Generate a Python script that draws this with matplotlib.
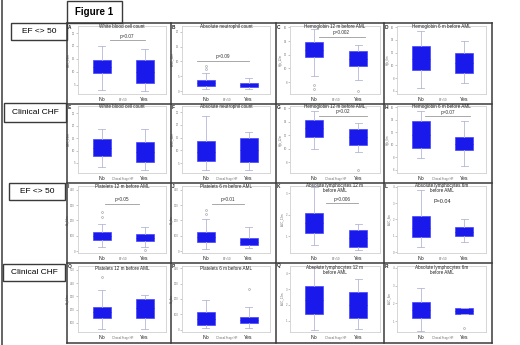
import matplotlib
matplotlib.use("Agg")
import matplotlib.pyplot as plt
from matplotlib.patches import Rectangle

plt.rcParams['font.family'] = ['Liberation Sans', 'DejaVu Sans']

W, H = 520, 345

# ---- data ----
letters = ['A', 'B', 'C', 'D', 'E', 'F', 'G', 'H', 'I', 'J', 'K', 'L', 'O', 'P', 'Q', 'R']
titles = ['White blood cell count', 'Absolute neutrophil count',
          'Hemoglobin 12 m before AML', 'Hemoglobin 6 m before AML',
          'White blood cell count', 'Absolute neutrophil count',
          'Hemoglobin 12 m before AML,', 'Hemoglobin 6 m before AML',
          'Platelets 12 m before AML', 'Platelets 6 m before AML',
          'Absolute lymphocytes 12 m\nbefore AML', 'Absolute lymphocytes 6m\nbefore AML',
          'Platelets 12 m before AML', 'Platelets 6 m before AML',
          'Absolute lymphocytes 12 m\nbefore AML', 'Absolute lymphocytes 6m\nbefore AML']
ylabels = ['WBC_12m', 'ANC_12m', 'Hgb_12m', 'Hgb_6m',
           'WBC_12m', 'ANC_12m', 'Hgb_12m', 'Hgb_6m',
           'Plt_12m', 'Plt_6m', 'ALC_12m', 'ALC_6m',
           'Plt_12m', 'Plt_6m', 'ALC_12m', 'ALC_6m']
yticks = [[5, 10, 15, 20, 25], [0, 5, 10, 15, 20], [8, 10, 12, 14, 16], [6, 8, 10, 12, 14, 16],
          [5, 10, 15, 20, 25], [5, 10, 15, 20, 25], [8, 10, 12, 14, 16], [6, 8, 10, 12, 14, 16],
          [0, 100, 200, 300, 400], [0, 100, 200, 300, 400], [1, 2, 3], [0, 1, 2, 3, 4],
          [100, 200, 300, 400, 500], [0, 100, 200, 300, 400], [1, 2, 3, 4], [1, 2, 3, 4]]
ylims = [(1.5, 27.7), (-1.0, 22.0), (6.25, 16.2), (5.5, 16.2),
         (1.0, 27.8), (1.1, 27.4), (6.4, 16.3), (5.5, 16.2),
         (-13, 426), (-13, 426), (0.21, 3.33), (-0.06, 4.06),
         (32, 530), (-13, 413), (0.31, 4.44), (0.38, 4.11)]

# (whisker low, q1, median, q3, whisker high)
no_stats = [(3.0, 9.7, 12.0, 14.7, 20.0), (0.7, 1.7, 2.6, 3.7, 6.1),
            (8.9, 11.6, 12.7, 13.8, 15.7), (6.5, 9.3, 11.0, 13.0, 15.4),
            (3.4, 7.8, 11.0, 14.6, 18.6), (2.3, 5.8, 9.5, 13.6, 23.4),
            (9.9, 11.7, 13.0, 14.2, 15.6), (7.9, 9.5, 11.5, 13.8, 15.4),
            (26, 72, 98, 125, 177), (13, 59, 90, 125, 208),
            (0.58, 1.14, 1.6, 2.07, 3.28), (0.3, 0.92, 1.5, 2.2, 3.8),
            (55, 138, 180, 221, 349), (13, 32, 70, 116, 194),
            (0.44, 1.44, 2.3, 3.19, 4.38), (0.44, 1.17, 1.6, 2.07, 2.86)]
no_fliers = [[], [7.5, 8.5], [7.0, 7.6], [], [], [], [], [],
             [223, 256], [243, 269], [], [], [447], [], [], []]
yes_stats = [(2.6, 5.8, 10.0, 14.7, 18.7), (0.7, 1.4, 2.0, 2.7, 4.4),
             (8.3, 10.3, 11.4, 12.5, 13.4), (7.25, 8.8, 10.3, 11.9, 13.8),
             (2.2, 5.4, 9.5, 13.4, 18.6), (2.3, 5.4, 10.0, 14.8, 17.2),
             (9.5, 10.5, 11.7, 12.9, 13.8), (6.6, 9.2, 10.2, 11.2, 13.8),
             (26, 66, 88, 111, 157), (20, 39, 60, 85, 157),
             (0.35, 0.49, 0.9, 1.28, 1.56), (0.62, 0.98, 1.25, 1.54, 2.03),
             (55, 138, 210, 281, 311), (13, 45, 65, 84, 148),
             (0.5, 1.19, 2.0, 2.81, 3.63), (1.4, 1.4, 1.55, 1.73, 1.73)]
yes_fliers = [[], [], [6.7], [], [], [], [6.8], [],
              [7], [], [], [], [], [265], [], [0.6]]

p_text = {'A': 'p=0.07', 'B': 'p=0.09', 'C': 'p=0.002', 'G': 'p=0.02',
          'H': 'p=0.07', 'I': 'p=0.05', 'J': 'p=0.01', 'K': 'p=0.006', 'L': 'P=0.04'}
p_y = {'A': 22.2, 'B': 10.2, 'C': 14.57, 'G': 14.8, 'H': 14.57,
       'I': 308, 'J': 308, 'K': 2.53, 'L': 3.08}
p_span = {'A': (1.2, 2.0), 'B': (0.8, 2.0), 'C': (1.1, 2.15), 'G': (1.1, 2.2),
          'H': (1.1, 2.14), 'I': (1.09, 1.86), 'J': (1.14, 1.89), 'K': (1.26, 2.0)}

group_labels = ['No', 'Yes']
row_labels = ['EF <> 50', 'Clinical CHF', 'EF <> 50', 'Clinical CHF']
x_names = ['EF<50', 'Clinical Stage HF', 'EF<50', 'Clinical Stage HF']

# ---- layout (pixels) ----
grid_x = [67, 171, 276, 384, 492]
grid_y = [23, 104, 183, 263, 343]
plot_x = [(78, 166), (182, 270), (290, 380), (397, 486)]
plot_y = [(26, 94), (106, 173), (186, 253), (266, 332)]
title_y = [26.5, 106.5, 187, 268]
title2_y = [26.5, 106.5, 188.5, 269.5]
letter_y = [27.5, 107.5, 186.5, 266]
label_boxes = [(11, 23, 67, 40), (4, 103, 66, 122), (9, 183, 65, 200), (3, 264, 65, 281)]

BLUE = '#1919eb'
WHISK = '#b4b8d4'
FRAME = '#3a3a3a'

fig = plt.figure(figsize=(5.2, 3.45), dpi=100)
bg = fig.add_axes([0, 0, 1, 1], zorder=2)
bg.set_xlim(0, W)
bg.set_ylim(H, 0)
bg.axis('off')
bg.patch.set_visible(False)

# outer frame and grid
bg.plot([2, 2], [0, H], color=FRAME, lw=1.1)
for x in grid_x:
    bg.plot([x, x], [grid_y[0], grid_y[-1]], color=FRAME, lw=1.1)
for y in grid_y:
    bg.plot([grid_x[0], grid_x[-1]], [y, y], color=FRAME, lw=1.1)

bg.add_patch(Rectangle((67, 1), 55, 22, fill=False, ec=FRAME, lw=1.0))
bg.text(94.5, 12, 'Figure 1', ha='center', va='center', fontsize=7, fontweight='bold')

for (x0, y0, x1, y1), lab in zip(label_boxes, row_labels):
    bg.add_patch(Rectangle((x0, y0), x1 - x0, y1 - y0, fill=False, ec=FRAME, lw=1.0))
    bg.text((x0 + x1) / 2, (y0 + y1) / 2, lab, ha='center', va='center', fontsize=6)

for i, let in enumerate(letters):
    r, c = divmod(i, 4)
    x0, x1 = plot_x[c]
    y0, y1 = plot_y[r]
    ax = fig.add_axes([x0 / W, 1 - y1 / H, (x1 - x0) / W, (y1 - y0) / H], zorder=1)

    stats = []
    for lab, s, fl in [('No', no_stats[i], no_fliers[i]), ('Yes', yes_stats[i], yes_fliers[i])]:
        stats.append(dict(label=lab, whislo=s[0], q1=s[1], med=s[2], q3=s[3],
                          whishi=s[4], fliers=fl))
    ax.bxp(stats, positions=[1, 2], widths=0.42, patch_artist=True, capwidths=0.16,
           boxprops=dict(facecolor=BLUE, edgecolor='#4646ff', linewidth=0.5),
           medianprops=dict(color=BLUE, linewidth=0.5),
           whiskerprops=dict(color=WHISK, linewidth=0.6),
           capprops=dict(color=WHISK, linewidth=0.6),
           flierprops=dict(marker='o', markersize=1.4, markerfacecolor='none',
                           markeredgecolor='#999999', markeredgewidth=0.4))

    ax.set_xlim(0.45, 2.5)
    ax.set_ylim(*ylims[i])
    ax.set_yticks(yticks[i])
    ax.set_yticklabels([str(t) for t in yticks[i]], fontsize=2, color='#777777')
    ax.tick_params(axis='y', length=1.3, width=0.4, color='#999999', pad=0.8)
    ax.set_xticks([1, 2])
    ax.set_xticklabels(group_labels, fontsize=3.8, color='#222222')
    ax.tick_params(axis='x', length=0, pad=2.5)
    ax.set_ylabel(ylabels[i], fontsize=2, color='#666666', labelpad=1)
    for sp in ax.spines.values():
        sp.set_color('#d0d0d0')
        sp.set_linewidth(0.6)

    ax.annotate(x_names[r], xy=(1.5, 0), xycoords=('data', 'axes fraction'),
                xytext=(0, -4.3), textcoords='offset points',
                ha='center', va='center', fontsize=2, color='#666666')

    if let in p_text:
        if let in p_span:
            a, b = p_span[let]
            ax.plot([a, b], [p_y[let], p_y[let]], color='#9a9a9a', lw=0.6)
            ax.annotate(p_text[let], xy=((a + b) / 2, p_y[let]), xytext=(0, 1.2),
                        textcoords='offset points', ha='center', va='bottom',
                        fontsize=3.4, color='#333333')
        else:
            ax.text(1.5, p_y[let], p_text[let], ha='center', va='center',
                    fontsize=3.9, color='#222222')

    ty = title2_y[r] if '\n' in titles[i] else title_y[r]
    bg.text((x0 + x1) / 2, ty, titles[i], ha='center', va='center', fontsize=3.3,
            linespacing=1.0, color='#222222')
    bg.text(grid_x[c] + 0.5, letter_y[r], let, ha='left', va='center',
            fontsize=3.4, fontweight='bold', color='#222222')

fig.savefig('out.png', dpi=100)
